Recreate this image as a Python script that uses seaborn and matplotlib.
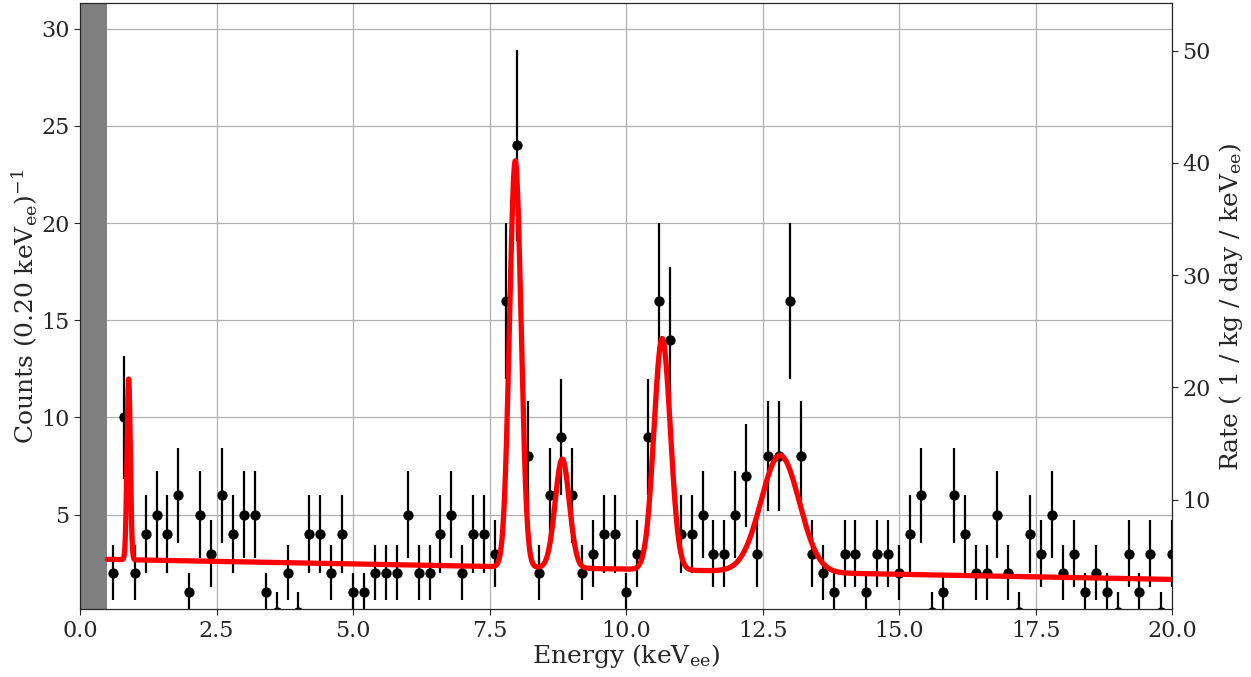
import numpy as np
import pandas as pd
import matplotlib
matplotlib.use("Agg")
import matplotlib.pyplot as plt
import seaborn as sns

# ---- data ----
energy = [round(0.6 + 0.2 * i, 1) for i in range(98)]
counts = [2, 10, 2, 4, 5, 4, 6, 1, 5, 3,
          6, 4, 5, 5, 1, 0, 2, 0, 4, 4,
          2, 4, 1, 1, 2, 2, 2, 5, 2, 2,
          4, 5, 2, 4, 4, 3, 16, 24, 8, 2,
          6, 9, 6, 2, 3, 4, 4, 1, 3, 9,
          16, 14, 4, 4, 5, 3, 3, 5, 7, 3,
          8, 8, 16, 8, 3, 2, 1, 3, 3, 1,
          3, 3, 2, 4, 6, 0, 1, 6, 4, 2,
          2, 5, 2, 0, 4, 3, 5, 2, 3, 1,
          2, 1, 0, 3, 1, 3, 0, 3]

# fitted model parameters
bg_at_start = 2.70      # counts at 0.5 keV
bg_slope = -0.053       # counts per keV
peak_centers = [0.89, 7.97, 8.83, 10.66, 12.82]
peak_amplitudes = [9.3, 20.9, 5.6, 11.9, 6.0]
peak_sigmas = [0.03, 0.105, 0.13, 0.15, 0.35]

threshold = 0.5
rate_factor = 1.732     # counts per bin -> 1/kg/day/keV

xticks = [0.0, 2.5, 5.0, 7.5, 10.0, 12.5, 15.0, 17.5, 20.0]

# ---- style ----
sns.set_style("ticks")
plt.rcParams["font.family"] = ["DejaVu Serif"]
plt.rcParams["mathtext.fontset"] = "dejavuserif"

fig = plt.figure(figsize=(12.51, 6.77), dpi=100)
ax = fig.add_axes([0.064, 0.100, 0.873, 0.895])

ax.axvspan(0, threshold, color="#808080", zorder=1, lw=0)

df = pd.DataFrame({"energy": energy, "counts": counts})
yerr = np.sqrt(np.maximum(df["counts"].values, 1))
ax.errorbar(df["energy"], df["counts"], yerr=yerr, fmt="none",
            ecolor="black", elinewidth=1.6, capsize=0, zorder=3)
sns.scatterplot(data=df, x="energy", y="counts", ax=ax, color="black",
                s=55, edgecolor="black", linewidth=0, zorder=4, legend=False)

xm = np.linspace(threshold, 20, 4000)
model = bg_at_start + bg_slope * (xm - threshold)
for c, a, s in zip(peak_centers, peak_amplitudes, peak_sigmas):
    model = model + a * np.exp(-0.5 * ((xm - c) / s) ** 2)
mdf = pd.DataFrame({"energy": xm, "model": model})
sns.lineplot(data=mdf, x="energy", y="model", ax=ax, color="red",
             lw=3.8, zorder=5)

ylo, yhi = 0.13, 31.3
ax.set_xlim(0, 20)
ax.set_ylim(ylo, yhi)
ax.set_xticks(xticks)
ax.set_xticklabels([f"{t:.1f}" for t in xticks])
ax.grid(True, color="#b0b0b0", lw=0.9)
ax.set_axisbelow(True)
for sp in ax.spines.values():
    sp.set_visible(True)
    sp.set_color("black")

ax.set_xlabel(r"Energy (keV$_{\mathrm{ee}}$)", fontsize=18, labelpad=0)
ax.set_ylabel(r"Counts (0.20 keV$_{\mathrm{ee}}$)$^{-1}$", fontsize=18, labelpad=1)
ax.tick_params(labelsize=16, direction="out", length=4)

ax2 = ax.twinx()
ax2.set_ylim(ylo * rate_factor, yhi * rate_factor)
ax2.set_ylabel(r"Rate ( 1 / kg / day / keV$_{\mathrm{ee}}$)", fontsize=18, labelpad=4)
ax2.tick_params(labelsize=16, direction="out", length=4)

fig.savefig("out.png", dpi=100)
